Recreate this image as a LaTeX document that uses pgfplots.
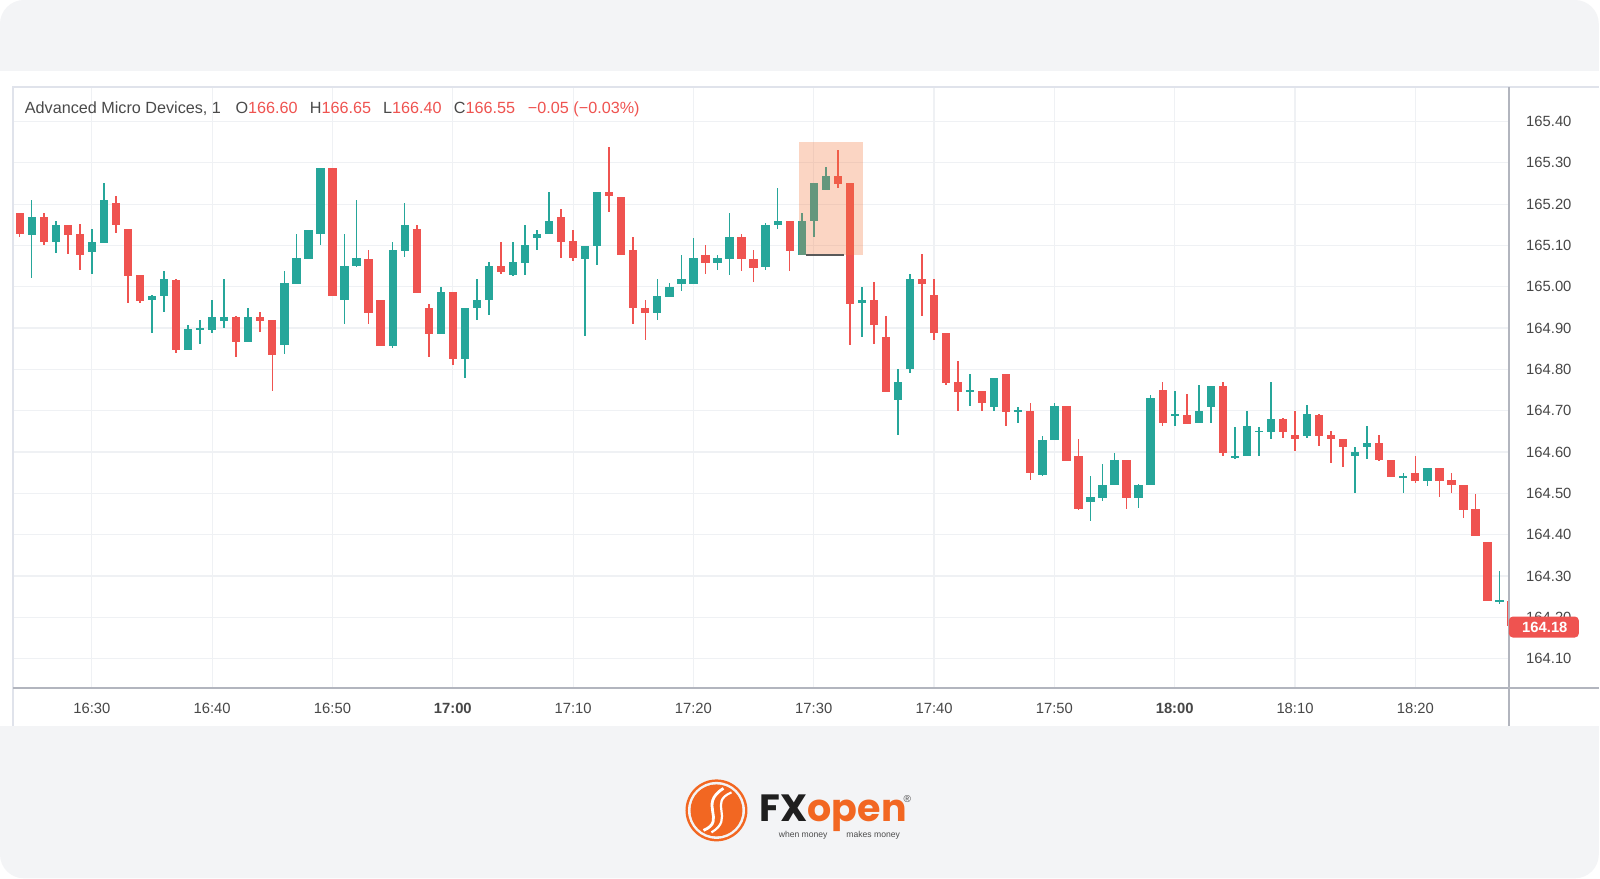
\documentclass[border=0pt]{standalone}
\usepackage{fontspec}
\setmainfont{Liberation Sans}
\newfontfamily\logofont{Poppins}
\usepackage{pgfplots}
\usepackage{pgfplotstable}
\pgfplotsset{compat=1.18}

\definecolor{upcol}{HTML}{26A69A}
\definecolor{downcol}{HTML}{EF5350}
\definecolor{gridcol}{HTML}{EFF1F4}
\definecolor{framecol}{HTML}{E0E3EB}
\definecolor{axcol}{HTML}{B2B5BE}
\definecolor{bgcol}{HTML}{F3F4F6}
\definecolor{txtcol}{HTML}{4A4A4A}
\definecolor{boxcol}{HTML}{F5763A}
\definecolor{fxorange}{HTML}{F26722}

% minute offset from 16:30, open high low close
\pgfplotstableread{
m o h l c
-5 165.127 165.211 165.022 165.169
-3 165.108 165.160 165.081 165.151
0 165.086 165.140 165.030 165.110
1 165.108 165.252 165.108 165.211
5 164.968 164.979 164.889 164.979
6 164.977 165.038 164.940 165.019
8 164.848 164.909 164.848 164.899
9 164.900 164.919 164.860 164.900
10 164.898 164.969 164.889 164.929
11 164.917 165.019 164.901 164.929
13 164.868 164.949 164.868 164.929
16 164.858 165.038 164.839 165.010
17 165.008 165.129 165.008 165.069
18 165.069 165.139 165.069 165.139
19 165.127 165.288 165.102 165.288
21 164.968 165.129 164.911 165.050
22 165.050 165.211 165.050 165.069
25 164.858 165.110 164.852 165.089
26 165.086 165.202 165.072 165.151
29 164.887 165.000 164.887 164.988
31 164.826 164.949 164.780 164.949
32 164.949 165.019 164.921 164.968
33 164.968 165.060 164.931 165.050
35 165.028 165.110 165.028 165.060
36 165.058 165.151 165.030 165.100
37 165.118 165.139 165.090 165.128
38 165.128 165.229 165.128 165.160
41 165.069 165.100 164.881 165.100
42 165.098 165.229 165.052 165.229
47 164.937 165.019 164.921 164.979
48 164.977 165.010 164.977 165.000
49 165.008 165.078 164.990 165.019
50 165.008 165.120 165.008 165.069
52 165.058 165.078 165.040 165.069
53 165.068 165.179 165.030 165.120
56 165.048 165.155 165.040 165.151
57 165.149 165.240 165.140 165.160
59 165.077 165.179 165.077 165.160
60 165.159 165.252 165.120 165.252
61 165.235 165.290 165.235 165.270
64 164.961 165.001 164.880 164.970
67 164.728 164.802 164.642 164.770
68 164.800 165.030 164.792 165.020
73 164.749 164.790 164.714 164.749
75 164.710 164.780 164.700 164.780
77 164.699 164.710 164.672 164.699
79 164.546 164.640 164.542 164.631
80 164.630 164.720 164.630 164.712
83 164.480 164.542 164.434 164.491
84 164.490 164.571 164.483 164.522
85 164.522 164.600 164.522 164.582
87 164.490 164.522 164.464 164.522
88 164.522 164.740 164.522 164.731
90 164.690 164.750 164.664 164.690
92 164.670 164.762 164.670 164.699
93 164.710 164.762 164.672 164.762
95 164.590 164.662 164.584 164.590
96 164.590 164.699 164.590 164.662
97 164.650 164.662 164.592 164.650
98 164.650 164.771 164.632 164.680
101 164.639 164.715 164.634 164.692
105 164.591 164.613 164.502 164.601
106 164.613 164.664 164.584 164.623
109 164.541 164.550 164.502 164.541
111 164.530 164.562 164.518 164.562
117 164.240 164.313 164.232 164.240
}\upcandles

\pgfplotstableread{
m o h l c
-6 165.179 165.179 165.121 165.128
-4 165.169 165.179 165.102 165.108
-2 165.151 165.151 165.081 165.127
-1 165.129 165.151 165.040 165.077
2 165.202 165.221 165.131 165.149
3 165.140 165.140 164.961 165.027
4 165.029 165.029 164.961 164.966
7 165.019 165.019 164.840 164.848
12 164.929 164.929 164.830 164.868
14 164.929 164.939 164.890 164.917
15 164.919 164.919 164.748 164.836
20 165.288 165.288 164.977 164.977
23 165.069 165.089 164.911 164.937
24 164.969 164.969 164.858 164.858
27 165.139 165.151 164.985 164.985
28 164.949 164.960 164.830 164.887
30 164.988 164.988 164.811 164.826
34 165.050 165.110 165.031 165.035
39 165.169 165.189 165.070 165.108
40 165.110 165.139 165.062 165.069
43 165.229 165.339 165.181 165.219
44 165.219 165.219 165.077 165.077
45 165.089 165.120 164.911 164.949
46 164.949 164.969 164.871 164.937
51 165.078 165.100 165.030 165.058
54 165.120 165.129 165.040 165.068
55 165.069 165.089 165.011 165.048
58 165.160 165.160 165.040 165.086
62 165.270 165.330 165.240 165.250
63 165.252 165.252 164.860 164.960
65 164.970 165.012 164.862 164.908
66 164.880 164.930 164.747 164.747
69 165.020 165.080 164.930 165.009
70 164.980 165.020 164.872 164.888
71 164.888 164.888 164.763 164.768
72 164.771 164.820 164.700 164.747
74 164.749 164.749 164.700 164.720
76 164.790 164.790 164.663 164.698
78 164.699 164.720 164.534 164.550
81 164.712 164.712 164.580 164.580
82 164.591 164.632 164.462 164.462
86 164.582 164.582 164.464 164.490
89 164.750 164.771 164.664 164.670
91 164.690 164.740 164.670 164.670
94 164.762 164.771 164.592 164.598
99 164.682 164.682 164.634 164.651
100 164.642 164.702 164.603 164.631
102 164.692 164.692 164.615 164.641
103 164.642 164.651 164.575 164.631
104 164.633 164.633 164.564 164.613
107 164.623 164.642 164.581 164.581
108 164.583 164.583 164.541 164.541
110 164.550 164.592 164.526 164.530
112 164.562 164.562 164.492 164.530
113 164.533 164.550 164.502 164.520
114 164.522 164.522 164.441 164.461
115 164.463 164.500 164.399 164.399
116 164.382 164.382 164.239 164.239
118 164.240 164.240 164.180 164.180
}\downcandles

\pgfplotsset{
  wick/.style={draw=none, forget plot,
    error bars/.cd, y dir=both, y explicit, error mark=none,
    error bar style={draw=#1, line width=0.8pt, line cap=butt}},
  body/.style={draw=none, forget plot,
    error bars/.cd, y dir=both, y explicit, error mark=none,
    error bar style={draw=#1, line width=4.15pt, line cap=butt}},
}

\begin{document}
\begin{tikzpicture}
\begin{scope}[x=0.5pt,y=0.5pt]
\useasboundingbox (0,0) rectangle (1600,879);
\fill[white] (0,0) rectangle (1600,879);
\fill[bgcol, rounded corners=12pt] (0,0) rectangle (1600,879);
\fill[white] (0,152.5) rectangle (1600,807.6);
\end{scope}

\begin{axis}[
  at={(6.65pt,95.1pt)}, anchor=south west,
  scale only axis, width=748.5pt, height=301pt,
  xmin=-6.53, xmax=117.8, ymin=164.0285, ymax=165.484,
  axis line style={draw=none},
  tick style={draw=none},
  xtick={0,10,20,30,40,50,60,70,80,90,100,110},
  xticklabels={16:30,16:40,16:50,\textbf{17:00},17:10,17:20,17:30,17:40,17:50,\textbf{18:00},18:10,18:20},
  ytick={164.1,164.2,164.3,164.4,164.5,164.6,164.7,164.8,164.9,165.0,165.1,165.2,165.3,165.4},
  yticklabel pos=right,
  every tick label/.append style={font=\fontsize{7.4}{8}\selectfont, text=black!72},
  x tick label style={yshift=-4pt},
  y tick label style={xshift=5pt, /pgf/number format/.cd, fixed, fixed zerofill, precision=2, assume math mode=true, /tikz/.cd},
  grid=major, major grid style={gridcol, line width=0.6pt},
  clip=true,
]
\addplot[wick=upcol] table[x=m, y expr={(\thisrow{h}+\thisrow{l})/2}, y error expr={(\thisrow{h}-\thisrow{l})/2}] {\upcandles};
\addplot[wick=downcol] table[x=m, y expr={(\thisrow{h}+\thisrow{l})/2}, y error expr={(\thisrow{h}-\thisrow{l})/2}] {\downcandles};
\addplot[body=upcol] table[x=m, y expr={(\thisrow{o}+\thisrow{c})/2}, y error expr={max(abs(\thisrow{o}-\thisrow{c})/2,0.0022)}] {\upcandles};
\addplot[body=downcol] table[x=m, y expr={(\thisrow{o}+\thisrow{c})/2}, y error expr={max(abs(\thisrow{o}-\thisrow{c})/2,0.0022)}] {\downcandles};

% highlighted region
\addplot[draw=none, fill=boxcol, fill opacity=0.3] coordinates {(58.8,165.078) (64.07,165.078) (64.07,165.351) (58.8,165.351)} -- cycle;
\addplot[draw=black!65, line width=1pt] coordinates {(59.37,165.077) (62.55,165.077)};
\end{axis}

\begin{scope}[x=0.5pt,y=0.5pt]
% frame and axis lines
\draw[framecol, line width=1pt] (13.3,152.5) -- (13.3,792.3) -- (1600,792.3);
\draw[axcol, line width=1.2pt] (13.3,190.2) -- (1600,190.2);
\draw[axcol, line width=0.8pt] (1510,152.5) -- (1510,792.3);

% last price label
\fill[downcol, rounded corners=2pt] (1510,241) rectangle (1580,262);
\node[text=white, font=\fontsize{7.4}{8}\selectfont\bfseries] at (1546,251.5) {164.18};

% legend line
\node[anchor=west, inner sep=0, font=\fontsize{8.1}{9}\selectfont] at (24.5,770) {%
  \textcolor{txtcol}{Advanced Micro Devices, 1\hspace{0.9em}O}\textcolor{downcol}{166.60}\hspace{0.75em}%
  \textcolor{txtcol}{H}\textcolor{downcol}{166.65}\hspace{0.75em}%
  \textcolor{txtcol}{L}\textcolor{downcol}{166.40}\hspace{0.75em}%
  \textcolor{txtcol}{C}\textcolor{downcol}{166.55}\hspace{0.8em}%
  \textcolor{downcol}{−0.05 (−0.03\%)}};

% logo
\fill[fxorange] (717,68) circle (31);
\fill[bgcol] (717,68) circle (28.5);
\fill[fxorange] (717,68) circle (26);
\draw[white, line width=1.4pt] (704,48) .. controls (728,58) and (698,74) .. (724,90);
\draw[white, line width=1.1pt] (712,46) .. controls (736,60) and (708,76) .. (732,86);
\node[anchor=base west, inner sep=0, font=\logofont\bfseries\fontsize{19}{20}\selectfont] at (760,56.5) {\textcolor{black!88}{FX}\textcolor{fxorange}{open}};
\node[font=\fontsize{4.3}{5}\selectfont, text=black!70] at (840,43) {when money\hspace{2.2em}makes money};
\node[font=\fontsize{5}{6}\selectfont, text=black!70] at (908,79) {®};
\end{scope}
\end{tikzpicture}
\end{document}
